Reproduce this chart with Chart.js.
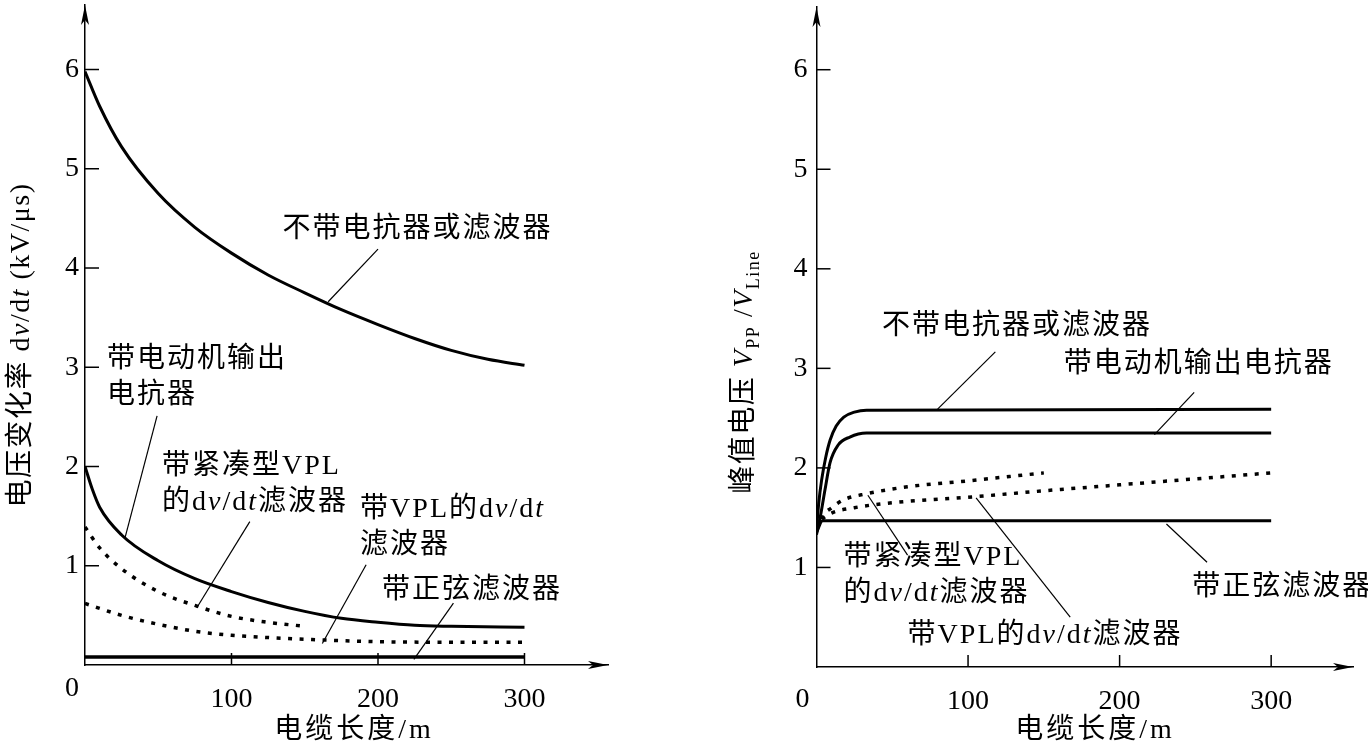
<!DOCTYPE html>
<html>
<head>
<meta charset="utf-8">
<script src="https://cdn.jsdelivr.net/npm/chart.js@4.4.1/dist/chart.umd.min.js"></script>
<style>
  html, body { margin: 0; padding: 0; background: #fff; }
  #wrap { position: relative; width: 1368px; height: 747px; }
  .pane { position: absolute; top: 0; width: 684px; height: 747px; }
  #left { left: 0; }
  #right { left: 684px; }
</style>
</head>
<body>
<div id="wrap">
  <div class="pane" id="left"><canvas id="c1" width="684" height="747"></canvas></div>
  <div class="pane" id="right"><canvas id="c2" width="684" height="747"></canvas></div>
</div>
<script>
// ---- left panel: dv/dt (kV/us) vs cable length (m) ----
const lenNoReactorL = [0, 10, 25, 50, 75, 100, 125, 150, 175, 200, 225, 250, 275, 300];
const dvdtNoReactor = [5.98, 5.63, 5.22, 4.75, 4.41, 4.15, 3.93, 3.75, 3.58, 3.43, 3.29, 3.17, 3.08, 3.02];
const lenMotorL = [0, 5, 10, 25, 50, 75, 100, 125, 150, 175, 200, 225, 250, 300];
const dvdtMotor = [2.0, 1.77, 1.59, 1.31, 1.05, 0.87, 0.74, 0.63, 0.54, 0.47, 0.43, 0.40, 0.39, 0.38];
const lenCompactL = [0, 10, 25, 50, 75, 100, 125, 150];
const dvdtCompact = [1.39, 1.18, 0.97, 0.74, 0.60, 0.49, 0.43, 0.39];
const lenVplL = [0, 25, 50, 75, 100, 150, 200, 250, 300];
const dvdtVpl = [0.62, 0.50, 0.41, 0.34, 0.30, 0.26, 0.235, 0.23, 0.23];
const lenSineL = [0, 300];
const dvdtSine = [0.08, 0.08];

// ---- right panel: Vpp / Vline vs cable length (m) ----
const lenNoReactorR = [0, 1.5, 3.4, 6, 9, 13, 18, 25, 33, 300];
const vppNoReactor = [1.38, 1.65, 1.88, 2.1, 2.28, 2.42, 2.51, 2.56, 2.58, 2.59];
const lenMotorR = [0, 3, 5.6, 8.9, 14.3, 22, 33, 300];
const vppMotor = [1.33, 1.55, 1.78, 2.05, 2.23, 2.31, 2.35, 2.35];
const lenCompactR = [0, 3, 10, 18, 33, 60, 100, 150];
const vppCompact = [1.38, 1.5, 1.6, 1.68, 1.74, 1.81, 1.87, 1.95];
const lenVplR = [0, 3, 9, 25, 50, 104, 150, 200, 300];
const vppVpl = [1.38, 1.47, 1.54, 1.6, 1.65, 1.71, 1.77, 1.83, 1.95];
const lenSineR = [0, 4, 300];
const vppSine = [1.35, 1.47, 1.47];

// tick labels
const xTickVals = [100, 200, 300];
const yTickVals = [1, 2, 3, 4, 5, 6];
const xTitle = '电缆长度/m';

const SERIF = '"Liberation Serif", "Noto Sans CJK SC", serif';

function pts(xs, ys) {
  return xs.map((x, i) => ({x: x, y: ys[i]}));
}

function solid(xs, ys) {
  return {data: pts(xs, ys), borderColor: '#000', borderWidth: 3, pointRadius: 0,
          cubicInterpolationMode: 'monotone', fill: false};
}

function dotted(xs, ys) {
  return {data: pts(xs, ys), borderColor: '#000', borderWidth: 3.5, pointRadius: 0,
          borderDash: [4, 7.5], cubicInterpolationMode: 'monotone', fill: false};
}

// rich text: {x} italic, _{x} subscript
function parseRich(s) {
  const out = [];
  s.split(/(_\{[^}]*\}|\{[^}]*\})/).forEach(p => {
    if (!p) return;
    if (p.startsWith('_{')) out.push({t: p.slice(2, -1), k: 'sub'});
    else if (p.startsWith('{')) out.push({t: p.slice(1, -1), k: 'it'});
    else out.push({t: p, k: 'n'});
  });
  return out;
}

function fontOf(k, size) {
  if (k === 'it') return 'italic ' + size + 'px ' + SERIF;
  if (k === 'sub') return Math.round(size * 0.66) + 'px ' + SERIF;
  return size + 'px ' + SERIF;
}

function drawRich(ctx, s, x, y, size, align, spacing) {
  const segs = parseRich(s);
  ctx.save();
  ctx.letterSpacing = (spacing || 0) + 'px';
  ctx.textBaseline = 'middle';
  ctx.textAlign = 'left';
  let w = 0;
  segs.forEach(g => { ctx.font = fontOf(g.k, size); w += ctx.measureText(g.t).width; });
  let cx = align === 'center' ? x - w / 2 : x;
  segs.forEach(g => {
    ctx.font = fontOf(g.k, size);
    ctx.fillText(g.t, cx, y + (g.k === 'sub' ? size * 0.32 : 0));
    cx += ctx.measureText(g.t).width;
  });
  ctx.restore();
}

function arrow(ctx, x, y, dir) {
  ctx.beginPath();
  if (dir === 'r') {
    ctx.moveTo(x, y); ctx.lineTo(x - 20, y - 4); ctx.lineTo(x - 15, y); ctx.lineTo(x - 20, y + 4);
  } else {
    ctx.moveTo(x, y); ctx.lineTo(x - 4, y + 20); ctx.lineTo(x, y + 15); ctx.lineTo(x + 4, y + 20);
  }
  ctx.closePath();
  ctx.fill();
}

const decor = {
  id: 'decor',
  afterDraw(chart, args, opts) {
    const ctx = chart.ctx, xs = chart.scales.x, ys = chart.scales.y, a = chart.chartArea;
    ctx.save();
    ctx.strokeStyle = '#000';
    ctx.fillStyle = '#000';
    ctx.lineWidth = 1.5;
    ys.ticks.forEach(t => {
      const p = ys.getPixelForValue(t.value);
      ctx.beginPath(); ctx.moveTo(a.left, p); ctx.lineTo(a.left + 14, p); ctx.stroke();
    });
    xs.ticks.forEach(t => {
      const p = xs.getPixelForValue(t.value);
      ctx.beginPath(); ctx.moveTo(p, a.bottom); ctx.lineTo(p, a.bottom - 12); ctx.stroke();
    });
    arrow(ctx, a.right, a.bottom, 'r');
    arrow(ctx, a.left, a.top, 'u');

    ctx.font = '28px ' + SERIF;
    ctx.textAlign = 'center';
    ctx.textBaseline = 'middle';
    ctx.fillText('0', a.left + opts.zero[0], a.bottom + opts.zero[1]);

    // x title
    drawRich(ctx, xTitle, opts.xTitlePos[0], opts.xTitlePos[1], 28, 'center', 3);

    // y title
    ctx.save();
    ctx.translate(opts.title[0], opts.title[1]);
    ctx.rotate(-Math.PI / 2);
    drawRich(ctx, opts.yTitle, 0, 0, 28, 'center', 1.5);
    ctx.restore();

    ctx.lineWidth = 1.2;
    opts.notes.forEach(n => {
      const p0 = n.leader[0], p1 = n.leader[1];
      ctx.beginPath();
      ctx.moveTo(xs.getPixelForValue(p0[0]), ys.getPixelForValue(p0[1]));
      ctx.lineTo(xs.getPixelForValue(p1[0]), ys.getPixelForValue(p1[1]));
      ctx.stroke();
      const tx = xs.getPixelForValue(n.at[0]), ty = ys.getPixelForValue(n.at[1]);
      n.lines.forEach((s, i) => drawRich(ctx, s, tx, ty + i * 36, 28, n.align || 'left', 2));
    });
    ctx.restore();
  }
};

function noPad(s) {
  s.paddingTop = 0; s.paddingBottom = 0; s.paddingLeft = 0; s.paddingRight = 0;
}

function makeChart(id, datasets, cfg) {
  return new Chart(document.getElementById(id), {
    type: 'line',
    data: {datasets: datasets},
    plugins: [decor],
    options: {
      responsive: false,
      animation: false,
      layout: {padding: {left: 0, right: cfg.padRight, top: cfg.padTop, bottom: 0}},
      plugins: {
        legend: {display: false},
        tooltip: {enabled: false},
        decor: cfg.decor
      },
      scales: {
        x: {
          type: 'linear', min: 0, max: cfg.xMax,
          afterFit: s => { s.height = cfg.xHeight; noPad(s); },
          afterBuildTicks: s => { s.ticks = xTickVals.map(v => ({value: v})); },
          grid: {display: false, drawTicks: false},
          border: {display: true, color: '#000', width: 1.5},
          ticks: {color: '#000', font: {family: SERIF, size: 28}, padding: cfg.xPad, maxRotation: 0}
        },
        y: {
          type: 'linear', min: 0, max: cfg.yMax,
          afterFit: s => { s.width = cfg.yWidth; noPad(s); },
          afterBuildTicks: s => { s.ticks = yTickVals.map(v => ({value: v})); },
          grid: {display: false, drawTicks: false},
          border: {display: true, color: '#000', width: 1.5},
          ticks: {color: '#000', font: {family: SERIF, size: 28}, padding: cfg.yPad}
        }
      }
    }
  });
}

makeChart('c1', [
  solid(lenNoReactorL, dvdtNoReactor),
  solid(lenMotorL, dvdtMotor),
  dotted(lenCompactL, dvdtCompact),
  dotted(lenVplL, dvdtVpl),
  Object.assign(solid(lenSineL, dvdtSine), {borderWidth: 3.5})
], {
  padRight: 76, padTop: 5, xMax: 357, yMax: 6.65, xHeight: 82, yWidth: 85, xPad: 18, yPad: 6,
  decor: {
    zero: [-13, 24], title: [22, 345], xTitlePos: [354, 731],
    yTitle: '电压变化率 d{v}/d{t} (kV/μs)',
    notes: [
      {lines: ['不带电抗器或滤波器'], at: [227, 4.39], align: 'center', leader: [[200, 4.19], [166, 3.66]]},
      {lines: ['带电动机输出', '电抗器'], at: [15, 3.08], leader: [[49.2, 2.51], [27.3, 1.28]]},
      {lines: ['带紧凑型VPL', '的d{v}/d{t}滤波器'], at: [52.6, 2.0], leader: [[112.5, 1.445], [76.3, 0.577]]},
      {lines: ['带VPL的d{v}/d{t}', '滤波器'], at: [187.8, 1.565], leader: [[191.9, 1.01], [162, 0.217]]},
      {lines: ['带正弦滤波器'], at: [202.7, 0.745], leader: [[251.5, 0.624], [224.5, 0.057]]}
    ]
  }
});

makeChart('c2', [
  solid(lenNoReactorR, vppNoReactor),
  solid(lenMotorR, vppMotor),
  dotted(lenCompactR, vppCompact),
  dotted(lenVplR, vppVpl),
  solid(lenSineR, vppSine)
], {
  padRight: 15, padTop: 7, xMax: 354, yMax: 6.63, xHeight: 80, yWidth: 132.5, xPad: 18, yPad: 9,
  decor: {
    zero: [-14, 33], title: [61, 372], xTitlePos: [411, 731],
    yTitle: '峰值电压 {V}_{PP} /{V}_{Line}',
    notes: [
      {lines: ['不带电抗器或滤波器'], at: [43.2, 3.416], leader: [[118, 3.166], [79.9, 2.59]]},
      {lines: ['带电动机输出电抗器'], at: [163.2, 3.036], leader: [[249.2, 2.758], [223, 2.335]]},
      {lines: ['带紧凑型VPL', '的d{v}/d{t}滤波器'], at: [17.8, 1.10], leader: [[60.1, 1.124], [33.9, 1.725]]},
      {lines: ['带VPL的d{v}/d{t}滤波器'], at: [60.1, 0.317], leader: [[167.4, 0.5], [105.3, 1.70]]},
      {lines: ['带正弦滤波器'], at: [247.9, 0.797], leader: [[257.7, 1.052], [230.9, 1.437]]}
    ]
  }
});
</script>
</body>
</html>
